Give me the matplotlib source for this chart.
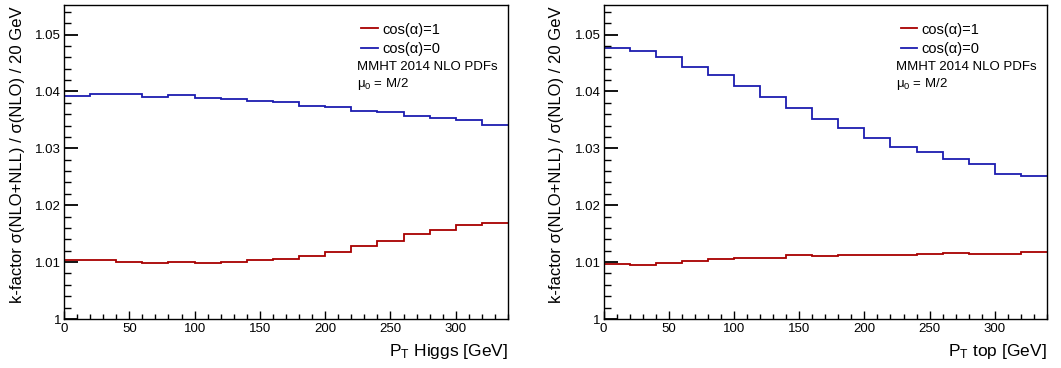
import numpy as np
import matplotlib
matplotlib.use("Agg")
from matplotlib import pyplot as plt
from matplotlib.ticker import MultipleLocator, FuncFormatter

plt.rcParams['font.family'] = ['Liberation Sans', 'DejaVu Sans']
plt.rcParams['mathtext.fontset'] = 'custom'
plt.rcParams['mathtext.rm'] = 'Liberation Sans'
plt.rcParams['mathtext.it'] = 'Liberation Sans:italic'

# bin edges in GeV (20 GeV bins)
bin_edges = [0, 20, 40, 60, 80, 100, 120, 140, 160, 180, 200,
             220, 240, 260, 280, 300, 320, 340]

# k-factors vs Higgs pT
higgs_cos1 = [1.0104, 1.0103, 1.0101, 1.0099, 1.0100, 1.0098, 1.0101, 1.0104, 1.0106,
              1.0111, 1.0117, 1.0129, 1.0138, 1.0149, 1.0157, 1.0165, 1.0169]
higgs_cos0 = [1.0392, 1.0396, 1.0396, 1.0391, 1.0393, 1.0388, 1.0387, 1.0384, 1.0382,
              1.0374, 1.0373, 1.0365, 1.0364, 1.0357, 1.0353, 1.0350, 1.0341]

# k-factors vs top pT
top_cos1 = [1.0097, 1.0095, 1.0098, 1.0102, 1.0106, 1.0108, 1.0107, 1.0112, 1.0110,
            1.0112, 1.0113, 1.0113, 1.0115, 1.0116, 1.0114, 1.0115, 1.0118]
top_cos0 = [1.0477, 1.0471, 1.0461, 1.0443, 1.0429, 1.0409, 1.0390, 1.0371, 1.0351,
            1.0336, 1.0318, 1.0303, 1.0293, 1.0281, 1.0272, 1.0255, 1.0251]

xlabels = [r'P$_\mathrm{T}$ Higgs [GeV]', r'P$_\mathrm{T}$ top [GeV]']
ylabel = 'k-factor σ(NLO+NLL) / σ(NLO) / 20 GeV'
leg_labels = ['cos(α)=1', 'cos(α)=0']
red = '#a80000'
blue = '#1c1cb0'


def draw_panel(ax, cos1, cos0, xlabel):
    ax.stairs(cos1, bin_edges, baseline=None, color=red, lw=1.3, label=leg_labels[0])
    ax.stairs(cos0, bin_edges, baseline=None, color=blue, lw=1.3, label=leg_labels[1])
    ax.set_xlim(0, 340)
    ax.set_ylim(1.0, 1.0552)
    ax.xaxis.set_major_locator(MultipleLocator(50))
    ax.xaxis.set_minor_locator(MultipleLocator(10))
    ax.yaxis.set_major_locator(MultipleLocator(0.01))
    ax.yaxis.set_minor_locator(MultipleLocator(0.002))
    ax.yaxis.set_major_formatter(FuncFormatter(
        lambda v, p: '1' if abs(v - 1) < 1e-9 else '%.2f' % v))
    ax.tick_params(axis='y', which='major', direction='in', length=10, width=1.3,
                   labelsize=9.5, pad=2, right=False)
    ax.tick_params(axis='y', which='minor', direction='in', length=5, width=1, right=False)
    ax.tick_params(axis='x', which='major', direction='in', length=6, width=1,
                   labelsize=9.5, pad=3, top=False)
    ax.tick_params(axis='x', which='minor', direction='in', length=3.5, width=1, top=False)
    for s in ax.spines.values():
        s.set_linewidth(1.0)
    ax.set_xlabel(xlabel, loc='right', fontsize=12.5)
    ax.set_ylabel(ylabel, loc='top', fontsize=12)
    ax.yaxis.set_label_coords(-0.088, 0.995)
    ax.xaxis.set_label_coords(1.0, -0.072)
    ax.legend(loc='upper left', bbox_to_anchor=(0.67, 0.944), frameon=False,
              fontsize=10.5, handlelength=1.1, handletextpad=0.35,
              borderpad=0, borderaxespad=0, labelspacing=0.35)
    ax.text(0.66, 0.803, 'MMHT 2014 NLO PDFs', transform=ax.transAxes,
            fontsize=9.5, va='center', ha='left')
    ax.text(0.66, 0.748, r'μ$_{0}$ = M/2', transform=ax.transAxes,
            fontsize=9.5, va='center', ha='left')


fig = plt.figure(figsize=(10.61, 3.68), dpi=100)
ax1 = fig.add_axes([64 / 1061, 1 - 319 / 368, 444 / 1061, 314 / 368])
ax2 = fig.add_axes([603.5 / 1061, 1 - 319 / 368, 443.5 / 1061, 314 / 368])
draw_panel(ax1, higgs_cos1, higgs_cos0, xlabels[0])
draw_panel(ax2, top_cos1, top_cos0, xlabels[1])
fig.savefig('out.png', dpi=100)
